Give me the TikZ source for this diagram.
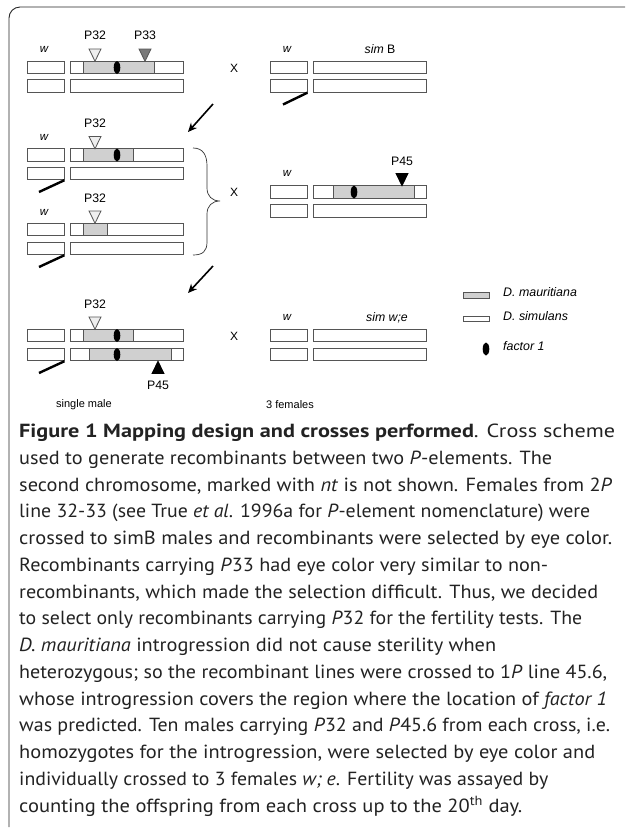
\documentclass[tikz,border=0pt]{standalone}
\usepackage{fontspec}
\setmainfont{PT Sans}
\newfontfamily\diag{Liberation Sans}
\usetikzlibrary{arrows.meta}
\definecolor{chromline}{HTML}{555555}
\definecolor{maugray}{HTML}{D0D0D0}
\definecolor{p33gray}{HTML}{7A7A7A}
\definecolor{opentri}{HTML}{EEEEEE}
\definecolor{captext}{HTML}{222222}
% one caption line, stretched to a given width
\newcommand{\capfit}[2]{\resizebox{#1pt}{\height}{#2}}

\begin{document}
\begin{tikzpicture}[x=1pt,y=-1pt,
  chrom/.style={rectangle, draw=chromline, fill=white, line width=0.9pt,
                inner sep=0pt, minimum height=12.5pt},
  shortc/.style={chrom, minimum width=37pt},
  longc/.style={chrom, minimum width=113pt},
  mau/.style={draw=chromline, fill=maugray, line width=0.9pt},
  opentr/.style={draw=chromline, fill=opentri, line width=0.8pt},
  darktr/.style={draw=chromline, fill=p33gray, line width=0.8pt},
  blacktr/.style={draw=black, fill=black, line width=0.8pt},
  lbl/.style={font=\diag\fontsize{12.3}{14}\selectfont, inner sep=0pt},
  crossx/.style={font=\diag\fontsize{12}{14}\selectfont, inner sep=0pt},
  wl/.style={font=\diag\itshape\fontsize{11.5}{13}\selectfont, inner sep=0pt},
  strain/.style={font=\diag\fontsize{12.3}{14}\selectfont, inner sep=0pt},
  leg/.style={font=\diag\itshape\fontsize{12.4}{14}\selectfont, inner sep=0pt, anchor=west},
  small/.style={font=\diag\fontsize{11}{12}\selectfont, inner sep=0pt},
  ylink/.style={line width=2.4pt, black},
  steparrow/.style={-{Stealth[length=9pt,width=8pt]}, line width=1.6pt},
  capline/.style={anchor=base west, inner sep=0pt, text=captext,
                  font=\fontsize{19}{21}\selectfont},
]
\useasboundingbox (0,0) rectangle (625,831);

% frame: top rule and left rule with rounded corner
\draw[line width=0.9pt, black!85] (625,7) -- (20,7) arc[start angle=90, end angle=180, radius=11pt] -- (9,827);

% ---------- first cross: 2P line 32-33 x simB ----------
\node[wl] (w1) at (44,49) {w};
\node[lbl] (p32a) at (95,35) {P32};
\node[lbl] (p33a) at (145,35) {P33};
\node[shortc] (a1s) at (45.5,67.5) {};
\node[longc]  (a1l) at (126.5,67.5) {};
\draw[mau] (83,61.25) rectangle (154,73.75);
\fill (117,67.5) ellipse [x radius=3.3pt, y radius=6.5pt];
\node[shortc] (a2s) at (45.5,86) {};
\node[longc]  (a2l) at (126.5,86) {};
\draw[opentr] (89,49) -- (101,49) -- (95,61.2) -- cycle;
\draw[darktr] (139,49) -- (151,49) -- (145,61.2) -- cycle;

\node[crossx] (x1) at (234,68) {X};

\node[wl] (w2) at (287,49) {w};
\node[strain] (simb) at (380,49) {\itshape sim\upshape\ B};
\node[shortc] (b1s) at (288.5,67.5) {};
\node[longc]  (b1l) at (370,67.5) {};
\node[shortc] (b2s) at (288.5,86) {};
\node[longc]  (b2l) at (370,86) {};
\coordinate (yb) at (283,104.5);
\draw[ylink] (b2s.south east) -- (yb);

\coordinate (s1a) at (213,104);
\coordinate (s1b) at (188,132);
\draw[steparrow] (s1a) -- (s1b);

% ---------- second cross: recombinants x 1P line 45.6 ----------
\node[wl] (w3) at (44,137) {w};
\node[lbl] (p32b) at (95,123) {P32};
\node[shortc] (c1s) at (45.5,155) {};
\node[longc]  (c1l) at (126.5,155) {};
\draw[mau] (83,148.75) rectangle (133,161.25);
\fill (117,155) ellipse [x radius=3.3pt, y radius=6.5pt];
\node[shortc] (c2s) at (45.5,173.5) {};
\node[longc]  (c2l) at (126.5,173.5) {};
\draw[opentr] (89,136.5) -- (101,136.5) -- (95,148.7) -- cycle;
\coordinate (yc) at (39,192);
\draw[ylink] (c2s.south east) -- (yc);

\node[wl] (w4) at (44,212) {w};
\node[lbl] (p32c) at (95,198) {P32};
\node[shortc] (d1s) at (45.5,229.5) {};
\node[longc]  (d1l) at (126.5,229.5) {};
\draw[mau] (83,223.25) rectangle (107,235.75);
\node[shortc] (d2s) at (45.5,248.5) {};
\node[longc]  (d2l) at (126.5,248.5) {};
\draw[opentr] (89,211) -- (101,211) -- (95,223.2) -- cycle;
\coordinate (yd) at (39,267);
\draw[ylink] (d2s.south east) -- (yd);

% brace grouping both recombinant classes
\draw[line width=0.7pt, black!80] (193,148)
  .. controls (203,148) and (207,155) .. (207,166) -- (207,188)
  .. controls (207,196) and (212,201) .. (220,201)
  .. controls (212,201) and (207,206) .. (207,214) -- (207,242)
  .. controls (207,251) and (203,255) .. (193,255);

\node[crossx] (x2) at (234,192) {X};

\node[wl] (w5) at (287,173) {w};
\node[lbl] (p45a) at (402,161) {P45};
\node[shortc] (e1s) at (288.5,192) {};
\node[longc]  (e1l) at (370,192) {};
\draw[mau] (333,185.75) rectangle (414,198.25);
\fill (354,192) ellipse [x radius=3.3pt, y radius=6.5pt];
\node[shortc] (e2s) at (288.5,211) {};
\node[longc]  (e2l) at (370,211) {};
\draw[blacktr] (396,173.5) -- (408,173.5) -- (402,185.7) -- cycle;

\coordinate (s2a) at (213,266);
\coordinate (s2b) at (188,293);
\draw[steparrow] (s2a) -- (s2b);

% ---------- third cross: single male x 3 females ----------
\node[lbl] (p32d) at (95,304) {P32};
\node[shortc] (f1s) at (45.5,335.5) {};
\node[longc]  (f1l) at (126.5,335.5) {};
\draw[mau] (83,329.25) rectangle (133,341.75);
\fill (117,335.5) ellipse [x radius=3.3pt, y radius=6.5pt];
\node[shortc] (f2s) at (45.5,354.5) {};
\node[longc]  (f2l) at (126.5,354.5) {};
\draw[mau] (89,348.25) rectangle (171,360.75);
\fill (117,354.5) ellipse [x radius=3.3pt, y radius=6.5pt];
\draw[opentr] (89,317) -- (101,317) -- (95,329.2) -- cycle;
\draw[blacktr] (152,373.5) -- (164,373.5) -- (158,361.3) -- cycle;
\node[lbl] (p45b) at (158,385) {P45};
\coordinate (yf) at (39,373);
\draw[ylink] (f2s.south east) -- (yf);

\node[crossx] (x3) at (234,336) {X};

\node[wl] (w6) at (287,317) {w};
\node[strain] (simwe) at (387,318) {\itshape sim w;e};
\node[shortc] (g1s) at (288.5,335.5) {};
\node[longc]  (g1l) at (370,335.5) {};
\node[shortc] (g2s) at (288.5,354.5) {};
\node[longc]  (g2l) at (370,354.5) {};

\node[small] (male) at (84,405) {single male};
\node[small] (fem) at (290,405) {3 females};

% ---------- legend ----------
\draw[mau] (463,292) rectangle (489,298);
\node[leg] (lmau) at (503,292.5) {D. mauritiana};
\draw[draw=chromline, fill=white, line width=0.9pt] (463,316.5) rectangle (489,321.5);
\node[leg] (lsim) at (503,316) {D. simulans};
\fill (486,349) ellipse [x radius=3.3pt, y radius=6.5pt];
\node[leg] (lfac) at (503,346) {factor 1};

% ---------- caption ----------
\node[capline] at (19,437.5) {\capfit{596}{\textbf{Figure 1 Mapping design and crosses performed}. Cross scheme}};
\node[capline] at (19,464.3) {\capfit{533}{used to generate recombinants between two \textit{P}-elements. The}};
\node[capline] at (19,491) {\capfit{593}{second chromosome, marked with \textit{nt} is not shown. Females from 2\textit{P}}};
\node[capline] at (19,517.8) {\capfit{571}{line 32-33 (see True \textit{et al}. 1996a for \textit{P}-element nomenclature) were}};
\node[capline] at (19,544.5) {\capfit{593}{crossed to simB males and recombinants were selected by eye color.}};
\node[capline] at (19,571.3) {\capfit{529}{Recombinants carrying \textit{P}33 had eye color very similar to non-}};
\node[capline] at (19,598) {\capfit{579}{recombinants, which made the selection difficult. Thus, we decided}};
\node[capline] at (19,624.8) {\capfit{563}{to select only recombinants carrying \textit{P}32 for the fertility tests. The}};
\node[capline] at (19,651.5) {\capfit{477}{\textit{D. mauritiana} introgression did not cause sterility when}};
\node[capline] at (19,678.3) {\capfit{588}{heterozygous; so the recombinant lines were crossed to 1\textit{P} line 45.6,}};
\node[capline] at (19,705) {\capfit{588}{whose introgression covers the region where the location of \textit{factor 1}}};
\node[capline] at (19,731.8) {\capfit{591}{was predicted. Ten males carrying \textit{P}32 and \textit{P}45.6 from each cross, i.e.}};
\node[capline] at (19,758.5) {\capfit{576}{homozygotes for the introgression, were selected by eye color and}};
\node[capline] at (19,785.3) {\capfit{529}{individually crossed to 3 females \textit{w; e}. Fertility was assayed by}};
\node[capline] at (19,812) {\capfit{503}{counting the offspring from each cross up to the 20\textsuperscript{th} day.}};
\end{tikzpicture}
\end{document}
